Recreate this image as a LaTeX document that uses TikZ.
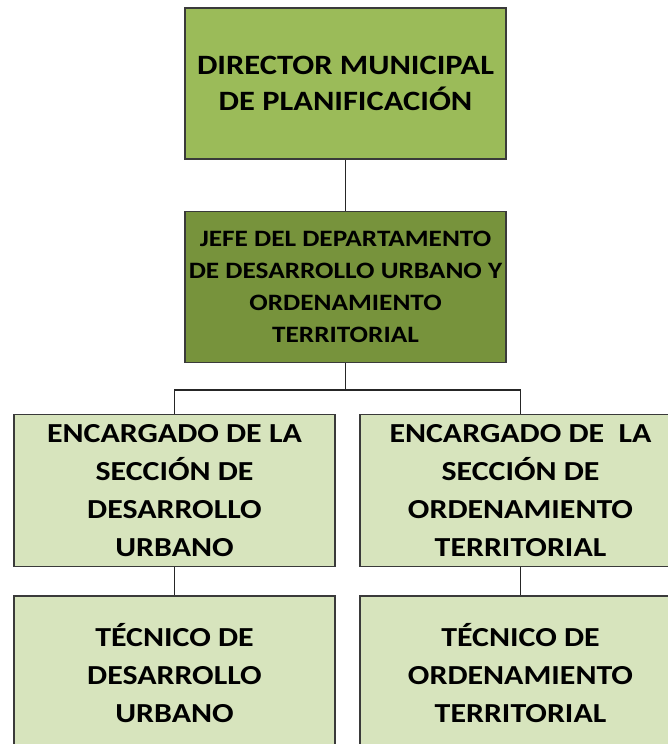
\documentclass[tikz,border=0pt]{standalone}
\usepackage{fontspec}
\setmainfont{Carlito}
\newfontfamily\ancha[FakeStretch=1.16]{Carlito}
\usetikzlibrary{positioning}

\definecolor{verdeA}{HTML}{9BBB59}
\definecolor{verdeB}{HTML}{77933C}
\definecolor{verdeC}{HTML}{D7E4BD}
\definecolor{borde}{HTML}{3A3A3A}

\tikzset{
  box/.style={draw=borde, line width=1.3pt, align=center, inner sep=0pt,
              minimum width=321pt, minimum height=151pt},
  link/.style={draw=black!85, line width=1.3pt}
}

\begin{document}
\begin{tikzpicture}[x=1pt, y=-1pt]
\clip (0,0) rectangle (668,744);
\fill [white] (0,0) rectangle (668,744);

\node [box, fill=verdeA, font=\ancha\bfseries\fontsize{28}{36}\selectfont] (dir) at (345.5,83.5)
  {DIRECTOR MUNICIPAL\\DE PLANIFICACIÓN};

\node [box, fill=verdeB, font=\ancha\bfseries\fontsize{23.5}{32}\selectfont] (jefe) at (345.5,287)
  {JEFE DEL DEPARTAMENTO\\DE DESARROLLO URBANO Y\\ORDENAMIENTO\\TERRITORIAL};

\node [box, fill=verdeC, minimum height=152pt, font=\ancha\bfseries\fontsize{27.5}{38}\selectfont] (secdu) at (174.5,490.5)
  {ENCARGADO DE LA\\SECCIÓN DE\\DESARROLLO\\URBANO};
\node [box, fill=verdeC, minimum height=152pt, font=\ancha\bfseries\fontsize{27.5}{38}\selectfont] (secot) at (520.5,490.5)
  {ENCARGADO DE\ \ LA\\SECCIÓN DE\\ORDENAMIENTO\\TERRITORIAL};

\node [box, fill=verdeC, minimum height=154pt, font=\ancha\bfseries\fontsize{27.5}{38}\selectfont] (tecdu) at (174.5,673)
  {TÉCNICO DE\\DESARROLLO\\URBANO};
\node [box, fill=verdeC, minimum height=154pt, font=\ancha\bfseries\fontsize{27.5}{38}\selectfont] (tecot) at (520.5,673)
  {TÉCNICO DE\\ORDENAMIENTO\\TERRITORIAL};

% conectores
\coordinate (bar) at (345.5,390);
\draw [link] (dir) -- (jefe);
\draw [link] (jefe) -- (bar);
\draw [link] (secdu.north) |- (bar) -| (secot.north);
\draw [link] (secdu) -- (tecdu);
\draw [link] (secot) -- (tecot);

\end{tikzpicture}
\end{document}
